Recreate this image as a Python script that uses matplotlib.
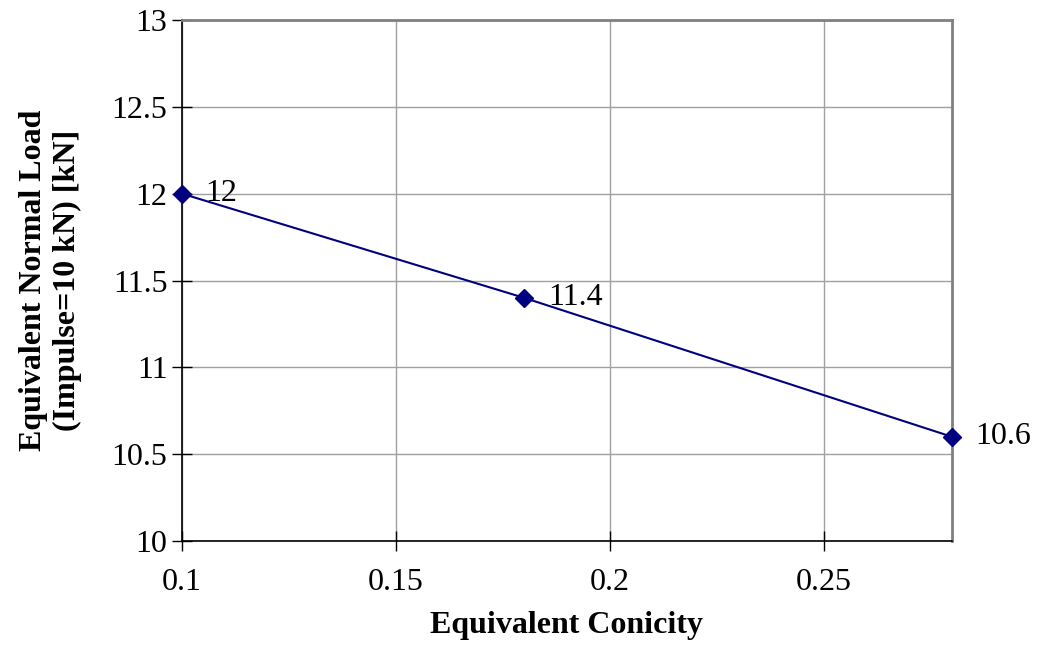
import matplotlib
matplotlib.use("Agg")
import matplotlib.pyplot as plt

# data
conicity = [0.1, 0.18, 0.28]
normal_load = [12.0, 11.4, 10.6]
point_labels = ["12", "11.4", "10.6"]

xticks = [0.1, 0.15, 0.2, 0.25]
xticklabels = ["0.1", "0.15", "0.2", "0.25"]
yticks = [10, 10.5, 11, 11.5, 12, 12.5, 13]
yticklabels = ["10", "10.5", "11", "11.5", "12", "12.5", "13"]

plt.rcParams['font.family'] = ['Liberation Serif', 'DejaVu Serif']

fig = plt.figure(figsize=(10.39, 6.46), dpi=100)
ax = fig.add_axes([182/1039, 1 - 541/646, (952-182)/1039, (541-20)/646])

ax.plot(conicity, normal_load, color='#000080', lw=1.5, marker='D', ms=9,
        mfc='#000080', mec='#000080', clip_on=False, zorder=5)
for x, y, t in zip(conicity, normal_load, point_labels):
    ax.annotate(t, (x, y), xytext=(17, 0), textcoords='offset points',
                ha='left', va='center', fontsize=23)

ax.set_xlim(0.1, 0.28)
ax.set_ylim(10, 13)
ax.set_xticks(xticks)
ax.set_xticklabels(xticklabels)
ax.set_yticks(yticks)
ax.set_yticklabels(yticklabels)
ax.grid(True, color='#a0a0a0', lw=1)
ax.set_axisbelow(True)

ax.tick_params(direction='inout', length=15, width=1, labelsize=23, pad=3)
ax.tick_params(axis='x', pad=12)
for s in ['left', 'bottom']:
    ax.spines[s].set_color('black')
    ax.spines[s].set_linewidth(1.2)
for s in ['top', 'right']:
    ax.spines[s].set_color('#808080')
    ax.spines[s].set_linewidth(2)

ax.set_xlabel('Equivalent Conicity', fontsize=23, fontweight='bold', labelpad=10)
ax.set_ylabel('Equivalent Normal Load\n(Impulse=10 kN) [kN]', fontsize=23,
              fontweight='bold', linespacing=1.2)
ax.yaxis.set_label_coords((82 - 182) / 770, 0.5)

fig.savefig('out.png', dpi=100)
